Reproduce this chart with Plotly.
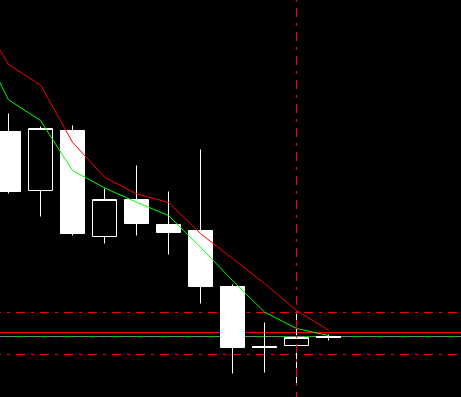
import plotly.graph_objects as go

# Bar index (0 = leftmost, partly visible candle)
bars = list(range(11))
opens  = [266, 207, 267, 161, 198, 173, 167, 111, 51, 52, 61]
highs  = [284, 271, 272, 209, 232, 206, 248, 113, 75, 84, 63]
lows   = [204, 181, 162, 154, 162, 143, 94, 24, 25, 14, 57]
closes = [206, 269, 164, 198, 174, 165, 111, 50, 50, 60, 60]

# Moving averages (include one bar before the first visible candle)
ma_x = list(range(-1, 11))
ma_red = [387, 333, 312.5, 255.3, 220.3, 203.7, 195, 164, 139, 114, 87, 67.5]
ma_green = [361.7, 297.7, 277, 227, 209.7, 195.3, 182, 150.3, 117, 85.5, 69, 62]

# Horizontal levels
level_red = 65
level_bid = 61
level_upper = 85
level_lower = 43
cursor_bar = 9

DASHDOT = "9px,6px,3px,6px"

fig = go.Figure()
fig.add_trace(go.Candlestick(
    x=bars, open=opens, high=highs, low=lows, close=closes,
    increasing=dict(line=dict(color="white", width=1), fillcolor="black"),
    decreasing=dict(line=dict(color="white", width=1), fillcolor="white"),
    whiskerwidth=0, showlegend=False, hoverinfo="skip",
))
fig.add_trace(go.Scatter(x=ma_x, y=ma_red, mode="lines",
                         line=dict(color="#FF0000", width=1), showlegend=False))
fig.add_trace(go.Scatter(x=ma_x, y=ma_green, mode="lines",
                         line=dict(color="#00FF00", width=1), showlegend=False))

x0p = -8 / 461
shapes = [
    dict(type="line", xref="paper", yref="y", x0=x0p, x1=1, y0=level_upper, y1=level_upper,
         line=dict(color="#FF0000", width=1, dash=DASHDOT), layer="below"),
    dict(type="line", xref="paper", yref="y", x0=x0p, x1=1, y0=level_lower, y1=level_lower,
         line=dict(color="#FF0000", width=1, dash=DASHDOT), layer="below"),
    dict(type="line", xref="paper", yref="y", x0=0, x1=1, y0=level_red, y1=level_red,
         line=dict(color="#FF0000", width=1), layer="below"),
    dict(type="line", xref="paper", yref="y", x0=0, x1=1, y0=level_bid, y1=level_bid,
         line=dict(color="#808098", width=1), layer="below"),
    dict(type="line", xref="paper", yref="y", x0=x0p, x1=1, y0=level_bid, y1=level_bid,
         line=dict(color="#00C800", width=1, dash=DASHDOT), layer="below"),
    dict(type="line", xref="x", yref="paper", x0=cursor_bar, x1=cursor_bar,
         y0=1 + 16 / 397, y1=-0.05,
         line=dict(color="#FF0000", width=1, dash=DASHDOT), layer="above"),
]

x_start = -0.25 - 0.5 / 32
fig.update_layout(
    width=461, height=397,
    margin=dict(l=0, r=0, t=0, b=0),
    paper_bgcolor="black", plot_bgcolor="black",
    boxgap=0.25, boxgroupgap=0,
    shapes=shapes,
    showlegend=False,
    xaxis=dict(range=[x_start, x_start + 461 / 32], visible=False, showgrid=False,
               zeroline=False, rangeslider=dict(visible=False), fixedrange=True),
    yaxis=dict(range=[0.5, 397.5], visible=False, showgrid=False, zeroline=False,
               fixedrange=True),
)

fig.write_html("out.html", config={"displayModeBar": False})
